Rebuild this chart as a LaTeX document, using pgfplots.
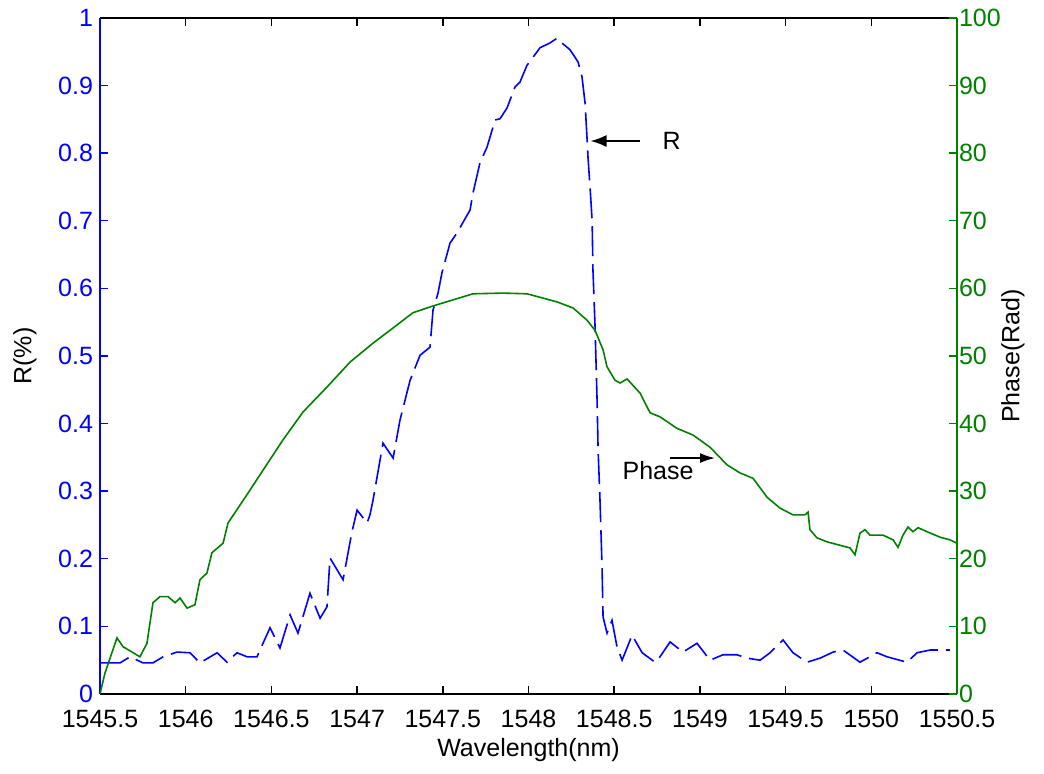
\documentclass[border=0pt]{standalone}
\usepackage{pgfplots}
\pgfplotsset{compat=1.18}
\usetikzlibrary{arrows.meta}
\usepackage{fontspec}
\setmainfont{Liberation Sans}
\definecolor{mblue}{RGB}{0,0,255}
\definecolor{mgreen}{RGB}{0,128,0}
\begin{document}
\begin{tikzpicture}
\pgfplotsset{
  every axis/.append style={
    scale only axis, width=428.5pt, height=338pt,
    xmin=1545.5, xmax=1550.5,
    font=\fontsize{12.5}{14}\selectfont,
    /pgf/number format/assume math mode=true,
    major tick length=4pt,
    tick align=inside,
    separate axis lines,
  },
}
\begin{axis}[
  axis x line=box,
  axis y line*=left,
  ymin=0, ymax=1,
  ytick={0,0.1,...,1},
  yticklabels={0,0.1,0.2,0.3,0.4,0.5,0.6,0.7,0.8,0.9,1},
  xtick={1545.5,1546,...,1550.5},
  xticklabels={1545.5,1546,1546.5,1547,1547.5,1548,1548.5,1549,1549.5,1550,1550.5},
  x axis line style={black, line width=0.7pt},
  y axis line style={mblue, line width=0.7pt},
  xtick style={black, line width=0.7pt},
  ytick style={mblue, line width=0.7pt},
  yticklabel style={text=mblue},
  xticklabel style={yshift=-4.5pt},
  xlabel={Wavelength(nm)},
  ylabel={R(\%)},
  xlabel style={at={(axis description cs:0.5,-0.0828)}, anchor=center},
  ylabel style={at={(axis description cs:-0.0875,0.5)}, anchor=center},
  clip=false,
]
\path (rel axis cs:-0.1167,-0.1183) rectangle (rel axis cs:1.1015,1.0266);
\addplot[mblue, line width=0.8pt, dash pattern=on 15pt off 4pt] coordinates {
(1545.500,0.046) (1545.617,0.046) (1545.675,0.055) (1545.751,0.046)
(1545.809,0.046) (1545.868,0.055) (1545.949,0.062) (1546.025,0.061)
(1546.083,0.046) (1546.183,0.061) (1546.241,0.047) (1546.299,0.061)
(1546.358,0.055) (1546.416,0.055) (1546.451,0.075) (1546.492,0.098)
(1546.550,0.068) (1546.609,0.117) (1546.655,0.090) (1546.725,0.149)
(1546.784,0.112) (1546.824,0.129) (1546.842,0.201) (1546.918,0.169)
(1546.970,0.240) (1547.000,0.272) (1547.058,0.253) (1547.075,0.265)
(1547.093,0.287) (1547.151,0.371) (1547.210,0.349) (1547.250,0.405)
(1547.309,0.464) (1547.367,0.501) (1547.425,0.513) (1547.443,0.568)
(1547.472,0.593) (1547.495,0.623) (1547.542,0.667) (1547.583,0.682)
(1547.659,0.716) (1547.676,0.741) (1547.717,0.786) (1547.758,0.809)
(1547.805,0.849) (1547.834,0.851) (1547.875,0.867) (1547.921,0.898)
(1547.950,0.905) (1547.991,0.930) (1548.050,0.950) (1548.067,0.956)
(1548.125,0.963) (1548.166,0.970) (1548.195,0.963) (1548.242,0.953)
(1548.289,0.935) (1548.312,0.913) (1548.330,0.874) (1548.341,0.824)
(1548.347,0.794) (1548.359,0.750) (1548.371,0.701) (1548.376,0.627)
(1548.388,0.545) (1548.400,0.435) (1548.406,0.361) (1548.417,0.287)
(1548.429,0.188) (1548.435,0.114) (1548.458,0.090) (1548.487,0.109)
(1548.516,0.070) (1548.546,0.050) (1548.604,0.087) (1548.663,0.061)
(1548.738,0.047) (1548.767,0.055) (1548.826,0.077) (1548.901,0.062)
(1548.983,0.075) (1549.059,0.050) (1549.135,0.058) (1549.216,0.058)
(1549.275,0.053) (1549.351,0.050) (1549.409,0.061) (1549.485,0.080)
(1549.543,0.061) (1549.625,0.047) (1549.701,0.053) (1549.777,0.062)
(1549.835,0.065) (1549.934,0.047) (1550.033,0.061) (1550.092,0.055)
(1550.208,0.047) (1550.267,0.061) (1550.343,0.065) (1550.459,0.065)
};
\draw[-{Latex[length=8pt,width=6pt]}, black, line width=0.8pt] (axis cs:1548.651,0.818) -- (axis cs:1548.362,0.818);
\node[font=\fontsize{12.5}{14}\selectfont, anchor=west, inner sep=0pt] at (axis cs:1548.78,0.818) {R};
\draw[-{Latex[length=7.5pt,width=5pt]}, black, line width=0.8pt] (axis cs:1548.826,0.349) -- (axis cs:1549.088,0.349);
\node[font=\fontsize{12.5}{14}\selectfont] at (axis cs:1548.756,0.330) {Phase};
\end{axis}
\begin{axis}[
  axis x line=none,
  axis y line*=right,
  ymin=0, ymax=100,
  ytick={0,10,...,100},
  y axis line style={mgreen, line width=0.7pt},
  ytick style={mgreen, line width=0.7pt},
  yticklabel style={text=mgreen, xshift=-2.5pt},
  ylabel={Phase(Rad)},
  ylabel style={at={(axis description cs:1.0653,0.5)}, anchor=center},
]
\addplot[mgreen, line width=0.8pt] coordinates {
(1545.500,0) (1545.529,3.1) (1545.599,8.3) (1545.634,7.0) (1545.733,5.5)
(1545.774,7.5) (1545.809,13.5) (1545.850,14.4) (1545.897,14.4) (1545.938,13.5)
(1545.967,14.2) (1546.008,12.7) (1546.054,13.2) (1546.083,16.9) (1546.124,17.9)
(1546.153,20.9) (1546.218,22.3) (1546.247,25.3) (1546.358,29.5) (1546.451,33.1)
(1546.568,37.6) (1546.684,41.7) (1546.824,45.4) (1546.959,49.1) (1547.093,51.9)
(1547.192,53.8) (1547.326,56.4) (1547.443,57.4) (1547.676,59.2) (1547.851,59.3)
(1547.991,59.2) (1548.166,58.0) (1548.260,57.1) (1548.341,55.3) (1548.388,53.8)
(1548.435,50.9) (1548.458,48.4) (1548.505,46.4) (1548.534,46.0) (1548.575,46.6)
(1548.651,44.5) (1548.709,41.6) (1548.767,41.0) (1548.866,39.3) (1548.960,38.3)
(1549.059,36.5) (1549.158,33.9) (1549.234,32.7) (1549.310,31.9) (1549.392,29.1)
(1549.467,27.5) (1549.543,26.5) (1549.613,26.5) (1549.631,26.9) (1549.642,24.3)
(1549.683,23.1) (1549.742,22.5) (1549.817,22.0) (1549.876,21.6) (1549.905,20.6)
(1549.934,23.8) (1549.963,24.3) (1549.992,23.5) (1550.068,23.5) (1550.127,22.8)
(1550.156,21.7) (1550.185,23.5) (1550.214,24.7) (1550.243,24.0) (1550.273,24.6)
(1550.325,24.0) (1550.401,23.2) (1550.459,22.8) (1550.500,22.3)
};
\end{axis}
\end{tikzpicture}
\end{document}
